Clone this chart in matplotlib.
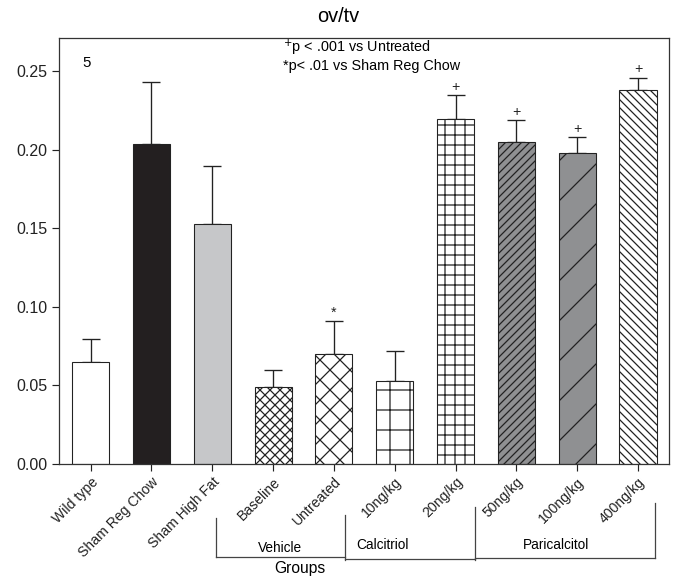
import matplotlib
matplotlib.use("Agg")
import matplotlib.pyplot as plt
from matplotlib.lines import Line2D

plt.rcParams['font.family'] = ['Liberation Sans', 'DejaVu Sans']
plt.rcParams['hatch.linewidth'] = 0.75

categories = ["Wild type", "Sham Reg Chow", "Sham High Fat", "Baseline", "Untreated",
              "10ng/kg", "20ng/kg", "50ng/kg", "100ng/kg", "400ng/kg"]
means = [0.065, 0.204, 0.153, 0.049, 0.070, 0.053, 0.220, 0.205, 0.198, 0.238]
errors = [0.0147, 0.039, 0.037, 0.011, 0.021, 0.019, 0.015, 0.014, 0.010, 0.008]
marks = ["", "", "", "", "*", "", "+", "+", "+", "+"]
fills = ["white", "#231f20", "#c6c7c9", "white", "white", "white", "white", "#8f9092", "#8f9092", "white"]
hatches = [None, None, None, "xxxx", "xx", "+", "++", "/////", "/", "\\\\\\\\\\"]
yticks = [0.00, 0.05, 0.10, 0.15, 0.20, 0.25]

DPI = 120
W, H = 676, 576
fig = plt.figure(figsize=(W / DPI, H / DPI), dpi=DPI)
ax = fig.add_axes([59 / W, 1 - 464 / H, (669 - 59) / W, (464 - 38) / H])

x = list(range(len(categories)))
for i in x:
    ax.bar(i, means[i], width=0.61, color=fills[i], edgecolor="#222222",
           linewidth=0.65, hatch=hatches[i], zorder=2)
    ax.errorbar(i, means[i], yerr=[[0], [errors[i]]], fmt="none", ecolor="#222222",
                elinewidth=0.8, capsize=5.5, capthick=0.8, zorder=1)
    if marks[i]:
        ax.text(i, means[i] + errors[i] + 0.0008, marks[i], ha="center", va="bottom",
                fontsize=8.5, color="#222222")

ax.set_xlim(-0.52, 9.51)
ax.set_ylim(0, 0.2713)
ax.set_yticks(yticks)
ax.set_yticklabels([f"{v:.2f}" for v in yticks], fontsize=9.6)
ax.set_xticks(x)
ax.set_xticklabels(categories, rotation=45, ha="right", rotation_mode="anchor", fontsize=8.4)
ax.tick_params(axis="both", direction="out", length=4, width=0.7, colors="#222222", pad=3)
ax.tick_params(axis="x", pad=2.5)
for s in ax.spines.values():
    s.set_linewidth(0.75)
    s.set_color("#333333")

def fx(px):
    return px / W

def fy(py):
    return 1 - py / H

fig.text(fx(338), fy(16), "ov/tv", fontsize=12, ha="center", va="center")
fig.text(fx(82), fy(63), "5", fontsize=9, va="center")
fig.text(fx(283), fy(48), r"$^{+}$p < .001 vs Untreated", fontsize=8.6, va="center")
fig.text(fx(283), fy(66), "*p< .01 vs Sham Reg Chow", fontsize=8.6, va="center")

lc = "#444444"
segs = [
    ((216, 216), (518, 557)), ((216, 345), (557, 557)),
    ((345, 345), (515, 560)), ((345, 475), (559, 559)),
    ((475, 475), (507, 560)), ((475, 655), (558, 558)),
    ((655, 655), (503, 558)),
]
for (xa, xb), (ya, yb) in segs:
    fig.add_artist(Line2D([fx(xa), fx(xb)], [fy(ya), fy(yb)], color=lc, lw=0.75))

fig.text(fx(280), fy(548), "Vehicle", fontsize=8.2, ha="center", va="center")
fig.text(fx(382), fy(545), "Calcitriol", fontsize=8.2, ha="center", va="center")
fig.text(fx(556), fy(545), "Paricalcitol", fontsize=8.2, ha="center", va="center")
fig.text(fx(300), fy(568), "Groups", fontsize=9.4, ha="center", va="center")

fig.savefig("out.png", dpi=DPI, facecolor="white")
